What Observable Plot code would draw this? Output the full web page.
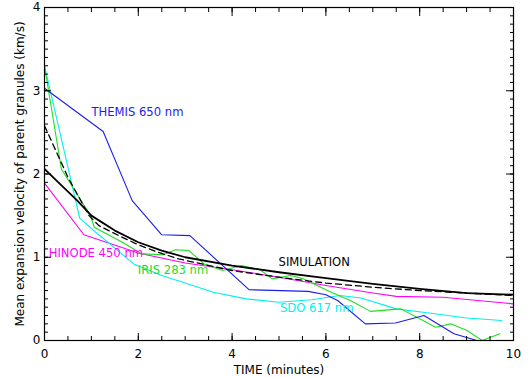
<!DOCTYPE html>
<html><head><meta charset="utf-8">
<script src="https://cdn.jsdelivr.net/npm/d3@7"></script>
<script src="https://cdn.jsdelivr.net/npm/@observablehq/plot@0.6"></script>
<style>body{margin:0;background:#fff}</style>
</head><body><div id="chart"></div>
<script>
// time in minutes, velocity in km/s
const themisT = [0, 1.25, 1.87, 2.5, 3.1, 4.36, 5.62, 6.0, 6.25, 6.84, 7.48, 8.09, 8.73, 9.22];
const themisV = [3.03, 2.51, 1.68, 1.27, 1.26, 0.61, 0.59, 0.55, 0.48, 0.20, 0.21, 0.30, 0.08, 0.0];

const irisT = [0, 0.36, 0.98, 1.06, 1.66, 2.08, 2.54, 2.79, 3.08, 3.40, 3.80, 4.2, 4.6, 4.85, 5.25, 5.53, 6.03, 6.52, 6.95, 7.6, 8.34, 8.66, 9.01, 9.33, 9.71];
const irisV = [3.30, 2.06, 1.50, 1.36, 1.18, 1.04, 1.03, 1.09, 1.08, 0.92, 0.84, 0.90, 0.85, 0.74, 0.78, 0.74, 0.60, 0.48, 0.35, 0.38, 0.16, 0.20, 0.12, 0.0, 0.08];

const sdoT = [0, 0.75, 1.09, 1.44, 1.9, 2.5, 3.0, 3.6, 4.3, 5.0, 5.7, 6.3, 6.75, 7.5, 8.2, 9.0, 9.75];
const sdoV = [3.30, 1.47, 1.30, 1.14, 0.92, 0.78, 0.69, 0.58, 0.50, 0.46, 0.49, 0.54, 0.51, 0.38, 0.33, 0.27, 0.24];

const hinodeT = [0, 0.84, 2, 3, 4, 5, 6, 7, 7.5, 8.5, 10];
const hinodeV = [1.89, 1.27, 1.05, 0.93, 0.85, 0.76, 0.66, 0.57, 0.53, 0.52, 0.44];

const simT = [0, 0.35, 0.7, 1, 1.5, 2, 2.5, 3, 4, 5, 6, 7, 8, 9, 10];
const simV = [2.06, 1.87, 1.68, 1.50, 1.32, 1.18, 1.08, 1.00, 0.90, 0.82, 0.75, 0.68, 0.62, 0.57, 0.55];

const simDashT = [0, 0.5, 0.95, 1.16, 1.62, 2, 2.37, 2.86, 4, 5, 6, 7, 8, 9, 10];
const simDashV = [2.58, 1.96, 1.50, 1.38, 1.25, 1.15, 1.07, 0.98, 0.84, 0.76, 0.69, 0.64, 0.60, 0.57, 0.54];

const xTicks = [0, 2, 4, 6, 8, 10];
const yTicks = [0, 1, 2, 3, 4];
const xMinor = [0,0.5,1,1.5,2,2.5,3,3.5,4,4.5,5,5.5,6,6.5,7,7.5,8,8.5,9,9.5,10];
const yMinor = d3.range(0, 41).map(i => i / 10);

const labelText = ["THEMIS 650 nm", "HINODE 450 nm", "IRIS 283 nm", "SIMULATION", "SDO 617 nm"];
const labelX = [1.0, 0.09, 1.99, 4.99, 5.02];
const labelY = [2.74, 1.05, 0.84, 0.94, 0.39];
const labelColor = ["#1c1cf0", "#ff00ff", "#22dd22", "#000000", "#00f0f0"];

const xLabel = "TIME (minutes)";
const yLabel = "Mean expansion velocity of parent granules (km/s)";

const zip = (T, V) => T.map((t, i) => ({t, v: V[i]}));
const labels = labelText.map((s, i) => ({s, x: labelX[i], y: labelY[i], c: labelColor[i]}));

const font = "DejaVu Sans";
const chart = Plot.plot({
  width: 528,
  height: 377,
  marginLeft: 44,
  marginRight: 15,
  marginTop: 7,
  marginBottom: 37,
  style: {fontFamily: font, fontSize: "12px", background: "#fff", color: "#000"},
  x: {domain: [0, 10]},
  y: {domain: [0, 4]},
  marks: [
    Plot.line(zip(hinodeT, hinodeV), {x: "t", y: "v", stroke: "#ff00ff", strokeWidth: 1.1, clip: true}),
    Plot.line(zip(sdoT, sdoV), {x: "t", y: "v", stroke: "#00f0f0", strokeWidth: 1.1, clip: true}),
    Plot.line(zip(irisT, irisV), {x: "t", y: "v", stroke: "#22dd22", strokeWidth: 1.1, clip: true}),
    Plot.line(zip(themisT, themisV), {x: "t", y: "v", stroke: "#1c1cf0", strokeWidth: 1.1, clip: true}),
    Plot.line(zip(simDashT, simDashV), {x: "t", y: "v", stroke: "#000", strokeWidth: 1.3, strokeDasharray: "6,4", clip: true}),
    Plot.line(zip(simT, simV), {x: "t", y: "v", stroke: "#000", strokeWidth: 1.8, clip: true}),
    Plot.text(labels, {x: "x", y: "y", text: "s", fill: "c", textAnchor: "start", fontSize: 11.6}),
    Plot.frame({stroke: "#000", strokeWidth: 1.2}),
    // minor ticks
    Plot.axisX(xMinor, {anchor: "bottom", tickSize: -4, tickFormat: () => "", label: null}),
    Plot.axisX(xMinor, {anchor: "top", tickSize: -4, tickFormat: () => "", label: null}),
    Plot.axisY(yMinor, {anchor: "left", tickSize: -4, tickFormat: () => "", label: null}),
    Plot.axisY(yMinor, {anchor: "right", tickSize: -4, tickFormat: () => "", label: null}),
    // major ticks
    Plot.axisX(xTicks, {anchor: "top", tickSize: -8, tickFormat: () => "", label: null}),
    Plot.axisY(yTicks, {anchor: "right", tickSize: -8, tickFormat: () => "", label: null}),
    Plot.axisX(xTicks, {anchor: "bottom", tickSize: -7, tickPadding: 16, fontSize: 12, label: null, tickFormat: d => String(d)}),
    Plot.axisY(yTicks, {anchor: "left", tickSize: -7, tickPadding: 11, fontSize: 12, label: null, tickFormat: d => String(d)}),
    Plot.text([xLabel], {frameAnchor: "bottom", dy: 33, fontSize: 12, fill: "#000"}),
    Plot.text([yLabel], {frameAnchor: "left", textAnchor: "middle", dx: -24, rotate: -90, fontSize: 12, fill: "#000"})
  ]
});
document.getElementById("chart").append(chart);
</script>
</body></html>
